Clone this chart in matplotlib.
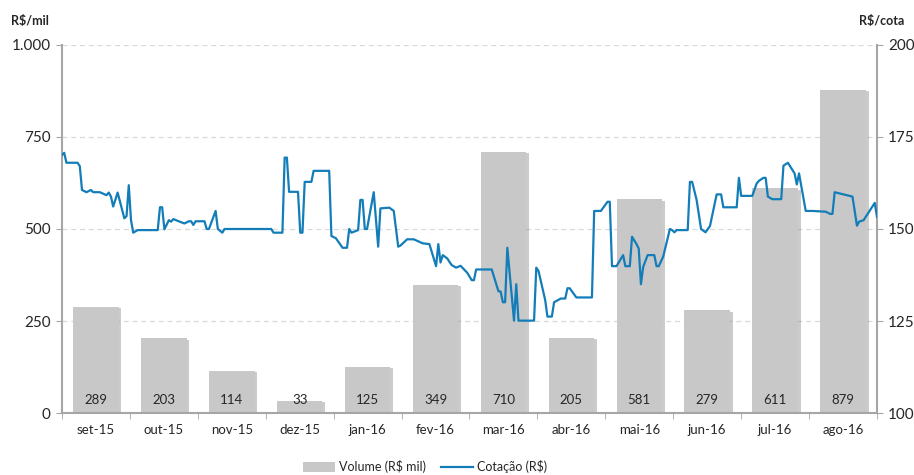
import matplotlib
matplotlib.use("Agg")
import matplotlib.pyplot as plt
import matplotlib.patheffects as pe
from matplotlib.patches import Patch
from matplotlib.lines import Line2D
import numpy as np

plt.rcParams['font.family'] = ['Lato', 'DejaVu Sans']

# volume mensal (R$ mil)
meses = ['set-15', 'out-15', 'nov-15', 'dez-15', 'jan-16', 'fev-16',
         'mar-16', 'abr-16', 'mai-16', 'jun-16', 'jul-16', 'ago-16']
volume = [289, 203, 114, 33, 125, 349, 710, 205, 581, 279, 611, 879]

# cotacao (R$/cota), dias corridos desde 01/09/2015
dias = [0, 1, 2, 7, 8, 9, 11, 13, 14, 17, 20, 21, 22, 23, 25, 28, 29, 30, 31, 32,
        34, 43, 44, 45, 46, 48, 49, 50, 52, 55, 57, 58, 59, 60, 64, 65, 66, 69, 70, 72,
        73, 94, 95, 99, 100, 101, 102, 106, 107, 108, 109, 112, 113, 120, 121, 123, 126, 128, 129, 130,
        133, 134, 135, 136, 137, 140, 142, 143, 147, 149, 151, 152, 155, 158, 162, 165, 168, 169, 170, 171,
        173, 175, 177, 179, 182, 184, 185, 186, 193, 196, 197, 198, 199, 200, 202, 203, 204, 205, 212, 213,
        214, 217, 218, 220, 221, 224, 226, 227, 228, 231, 238, 239, 242, 245, 246, 247, 249, 252, 253, 255,
        256, 258, 259, 260, 261, 263, 266, 267, 268, 270, 273, 274, 275, 276, 281, 282, 283, 285, 287, 289,
        291, 294, 296, 297, 303, 304, 305, 310, 312, 313, 315, 316, 317, 319, 323, 324, 326, 329, 330, 331,
        334, 337, 343, 345, 346, 347, 351, 355, 357, 358, 360, 365, 366]
cotacao = [170.1, 170.7, 168.0, 168.0, 167.1, 160.6, 160.0, 160.6, 160.0, 160.0, 159.2, 159.9, 158.8, 156.1, 159.9, 152.9, 153.5, 161.9, 152.4, 149.0,
           149.7, 149.7, 155.9, 155.9, 149.9, 152.4, 152.0, 152.7, 152.2, 151.5, 152.1, 152.1, 151.1, 152.1, 152.1, 150.0, 150.0, 154.9, 150.0, 149.0,
           150.0, 150.0, 149.0, 149.0, 169.4, 169.4, 160.1, 160.1, 149.0, 149.0, 162.8, 162.8, 165.8, 165.8, 148.1, 147.5, 144.9, 144.9, 150.0, 149.0,
           149.7, 157.9, 157.9, 150.0, 150.0, 160.0, 145.2, 155.6, 155.8, 154.9, 145.2, 145.5, 147.2, 147.2, 146.1, 145.9, 139.9, 145.9, 140.9, 142.9,
           142.0, 140.2, 139.5, 140.0, 138.1, 136.1, 136.1, 139.0, 139.0, 133.1, 133.0, 130.1, 130.1, 144.9, 131.6, 125.1, 135.0, 125.1, 125.1, 139.5,
           138.6, 130.7, 126.2, 126.2, 130.1, 131.1, 131.1, 133.9, 133.9, 131.4, 131.4, 154.9, 154.9, 157.4, 157.4, 139.9, 139.9, 142.9, 139.9, 139.9,
           147.9, 145.9, 144.7, 135.0, 139.7, 142.9, 142.9, 139.9, 139.9, 142.5, 150.0, 149.7, 149.1, 149.7, 149.7, 162.8, 162.8, 157.9, 150.0, 149.1,
           150.8, 159.4, 159.4, 155.9, 155.9, 163.9, 159.0, 159.0, 162.4, 163.1, 163.9, 163.9, 158.8, 158.1, 158.1, 167.2, 168.0, 165.1, 162.1, 165.1,
           154.9, 154.9, 154.7, 154.1, 154.1, 160.0, 159.4, 158.8, 150.9, 152.0, 152.4, 157.1, 153.3]

bar_color = '#c8c8c8'
line_color = '#127db8'
axis_color = '#a6a6a6'
text_color = '#262626'

fig = plt.figure(figsize=(9.14, 4.75), dpi=100)
ax = fig.add_axes([0.0678, 0.1305, 0.8917, 0.7748])

x = np.arange(len(meses))
bars = ax.bar(x, volume, width=0.67, color=bar_color, zorder=2)
for b in bars:
    b.set_path_effects([pe.SimplePatchShadow(offset=(2, -1), shadow_rgbFace='#8c8c8c', alpha=0.45),
                        pe.Normal()])
for xi, v in zip(x, volume):
    ax.text(xi, 35, str(v), ha='center', va='center', fontsize=9.5, color=text_color, zorder=3)

ax.set_xlim(-0.5, len(meses) - 0.5)
ax.set_ylim(0, 1000)
ax.set_yticks([0, 250, 500, 750, 1000])
ax.set_yticklabels(['0', '250', '500', '750', '1.000'])
ax.set_xticks(x)
ax.set_xticklabels(meses)
ax.set_xticks(np.arange(-0.5, len(meses)), minor=True)
ax.tick_params(axis='x', which='major', length=0, pad=8, labelsize=9.5, labelcolor=text_color)
ax.tick_params(axis='x', which='minor', length=4, color=axis_color, direction='out')
ax.tick_params(axis='y', length=4, color=axis_color, labelsize=11, labelcolor=text_color, pad=4)
ax.yaxis.grid(True, linestyle=(0, (4, 3)), color='#d9d9d9', linewidth=0.9)
ax.set_axisbelow(True)
for s in ['top', 'right']:
    ax.spines[s].set_visible(False)
for s in ['left', 'bottom']:
    ax.spines[s].set_color(axis_color)
    ax.spines[s].set_linewidth(1.5)

ax2 = ax.twinx()
ax2.set_ylim(100, 200)
ax2.set_yticks([100, 125, 150, 175, 200])
ax2.tick_params(axis='y', length=4, color=axis_color, labelsize=11, labelcolor=text_color, pad=4)
for s in ['top', 'left', 'bottom']:
    ax2.spines[s].set_visible(False)
ax2.spines['right'].set_color(axis_color)
ax2.spines['right'].set_linewidth(1.5)

ax3 = ax2.twiny()
ax3.plot(dias, cotacao, color=line_color, linewidth=1.6)
ax3.set_xlim(0, 366)
ax3.set_xticks([])
for s in ['top', 'left', 'bottom', 'right']:
    ax3.spines[s].set_visible(False)

fig.text(0.012, 0.955, 'R$/mil', fontsize=9, fontweight='bold', color=text_color, ha='left', va='center')
fig.text(0.99, 0.955, 'R$/cota', fontsize=9, fontweight='bold', color=text_color, ha='right', va='center')

handles = [Patch(facecolor=bar_color, edgecolor='none'),
           Line2D([0], [0], color=line_color, linewidth=1.6)]
fig.legend(handles, ['Volume (R$ mil)', 'Cotação (R$)'], loc='center', ncol=2,
           bbox_to_anchor=(0.465, 0.017), frameon=False, fontsize=9,
           handlelength=2.6, handleheight=0.8, columnspacing=1.2, handletextpad=0.3,
           labelcolor=text_color)

fig.savefig('out.png', dpi=100)
